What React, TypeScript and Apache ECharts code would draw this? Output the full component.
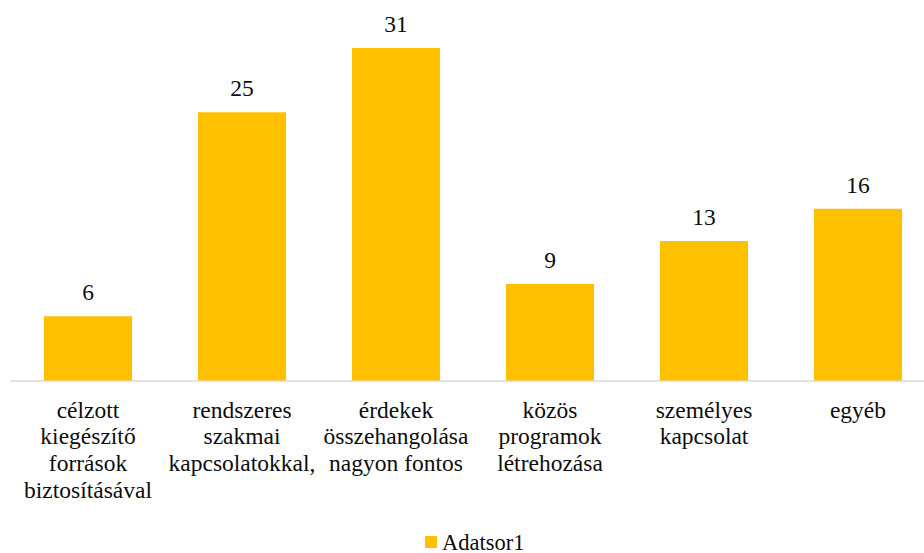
import React, { useEffect, useRef } from "react";
import * as echarts from "echarts";

const categories = [
  "célzott\nkiegészítő\nforrások\nbiztosításával",
  "rendszeres\nszakmai\nkapcsolatokkal,",
  "érdekek\nösszehangolása\nnagyon fontos",
  "közös\nprogramok\nlétrehozása",
  "személyes\nkapcsolat",
  "egyéb",
];
const seriesName = "Adatsor1";
const values = [6, 25, 31, 9, 13, 16];

export default function App() {
  const ref = useRef<HTMLDivElement>(null);
  useEffect(() => {
    if (!ref.current) return;
    const chart = echarts.init(ref.current, null, { renderer: "svg" });
    const font = "Liberation Serif";
    const fs = 23.5;
    chart.setOption({
      animation: false,
      textStyle: { fontFamily: font, fontSize: fs },
      grid: { left: 11, right: 0, top: 5, bottom: 172.5, containLabel: false },
      legend: {
        data: [seriesName],
        left: 425,
        top: 530.5,
        icon: "rect",
        itemWidth: 12,
        itemHeight: 12,
        itemGap: 5,
        padding: 0,
        textStyle: { fontFamily: font, fontSize: 22.5, lineHeight: 20, color: "#0d0d0d" },
      },
      xAxis: {
        type: "category",
        data: categories,
        axisLine: { show: true, lineStyle: { color: "#d9d9d9", width: 1.5 } },
        axisTick: { show: false },
        axisLabel: {
          interval: 0,
          margin: 15.7,
          fontFamily: font,
          fontSize: fs,
          lineHeight: 26.7,
          color: "#0d0d0d",
        },
      },
      yAxis: {
        type: "value",
        min: 0,
        max: 35,
        show: false,
        splitLine: { show: false },
      },
      series: [
        {
          name: seriesName,
          type: "bar",
          data: values,
          barWidth: 88,
          itemStyle: { color: "#FFC000" },
          label: {
            show: true,
            position: "top",
            distance: 12,
            fontFamily: font,
            fontSize: fs,
            color: "#0d0d0d",
          },
        },
      ],
    });
    return () => chart.dispose();
  }, []);
  return (
    <div
      ref={ref}
      style={{ position: "fixed", left: 0, top: 0, width: 935, height: 553, background: "#fff" }}
    />
  );
}
